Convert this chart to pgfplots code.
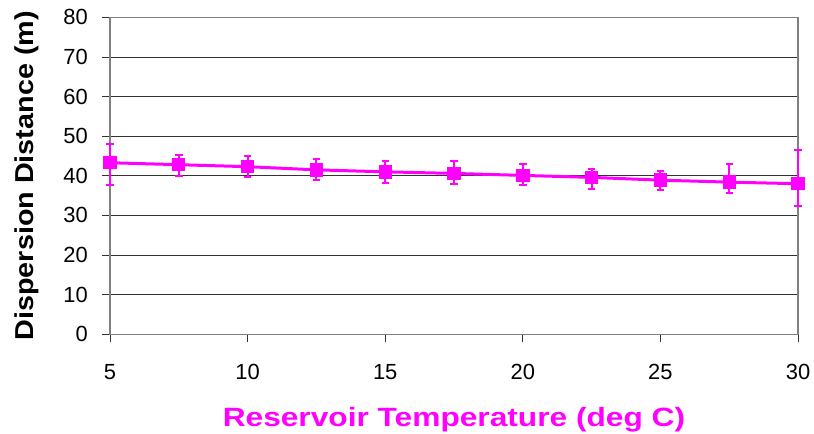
\documentclass[border=0pt]{standalone}
\usepackage{fontspec}
\setmainfont{Liberation Sans}
\usepackage{pgfplots}
\pgfplotsset{compat=1.18}
\usepackage{pgfplotstable}
\definecolor{mag}{RGB}{255,0,255}
\pgfplotstableread{
x y ep em
5 43.3 4.6 5.5
7.5 42.8 2.4 2.8
10 42.3 2.6 2.6
12.5 41.5 2.7 2.5
15 41.0 2.7 2.7
17.5 40.6 3.1 2.6
20 40.1 2.9 2.5
22.5 39.6 2.2 2.9
25 38.9 2.4 2.6
27.5 38.4 4.6 2.7
30 38.0 8.5 5.6
}\datatable
\begin{document}
\begin{tikzpicture}
\begin{axis}[
  scale only axis,
  width=688bp, height=317bp,
  xmin=5, xmax=30, ymin=0, ymax=80,
  xtick={5,10,...,30}, ytick={0,10,...,80},
  xtick pos=lower, ytick pos=left,
  tick align=outside, major tick length=8bp,
  tick style={black!80, line width=0.8bp},
  ymajorgrids, grid style={black!80, line width=0.8bp},
  axis line style={gray, line width=1.3bp},
  clip=false,
  /pgf/number format/assume math mode=true,
  tick label style={font=\fontsize{22}{24}\selectfont},
  yticklabel style={inner sep=0pt, xshift=-14bp},
  xticklabel style={inner sep=0pt, yshift=-22bp},
  xlabel={Reservoir Temperature (deg C)},
  ylabel={Dispersion Distance (m)},
  xlabel style={at={(axis description cs:0.5,0)}, anchor=base, yshift=-92.4bp, inner sep=0pt,
    font=\fontsize{26.5}{28}\selectfont\bfseries, text=mag, xscale=1.2},
  ylabel style={at={(axis description cs:-0.1105,0.5)}, anchor=base, inner sep=0pt,
    font=\fontsize{26}{28}\selectfont\bfseries, xscale=1.11},
]
\addplot[mag, line width=3bp, mark=square*, mark size=5.2bp,
  mark options={solid},
  error bars/.cd, y dir=both, y explicit,
  error bar style={mag, line width=2bp},
  error mark options={mag, line width=2bp, mark size=3.7bp, rotate=90}]
  table[x=x, y=y, y error plus=ep, y error minus=em]{\datatable};
\end{axis}
\pgfresetboundingbox
\useasboundingbox (current axis.south west) ++(-110bp,-99.7bp) rectangle ++(814bp,434bp);
\end{tikzpicture}
\end{document}
